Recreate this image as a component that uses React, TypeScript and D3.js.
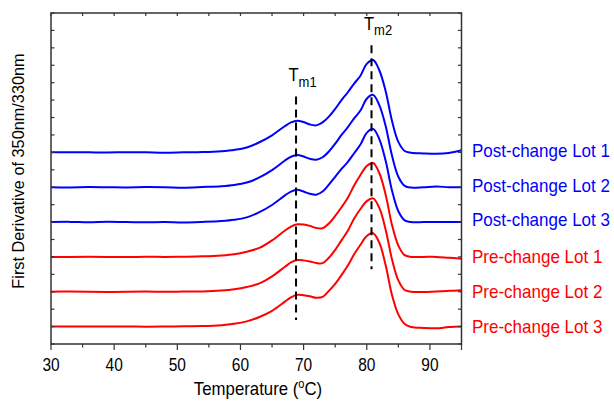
import React from "react";
import * as d3 from "d3";

// Temperatures (°C) at which the traces were read
const temps = [30, 33, 36, 39, 42, 45, 48, 51, 54, 57, 59, 61, 63, 65, 67, 68, 69, 70, 71, 72, 73, 74, 75, 76, 77, 78, 79, 80, 81, 82, 83, 84, 85, 86, 87, 89, 91, 93, 95];

// First-derivative signal above each trace's own baseline (axis units)
const post1 = [0.0, 0.01, 0.0, -0.01, 0.01, 0.0, -0.02, 0.0, 0.02, 0.07, 0.14, 0.28, 0.58, 0.98, 1.5, 1.72, 1.82, 1.74, 1.6, 1.55, 1.72, 2.05, 2.5, 3.0, 3.45, 3.95, 4.4, 5.08, 5.3, 4.7, 3.5, 1.8, 0.6, 0.08, -0.02, -0.06, -0.08, -0.03, 0.12];
const post2 = [0.0, -0.01, 0.01, 0.0, -0.01, 0.01, 0.0, -0.03, 0.01, 0.06, 0.13, 0.27, 0.56, 0.98, 1.52, 1.75, 1.85, 1.76, 1.63, 1.58, 1.72, 2.05, 2.5, 3.0, 3.45, 3.95, 4.4, 5.08, 5.3, 4.7, 3.5, 1.8, 0.6, 0.08, -0.02, 0.0, 0.04, 0.0, 0.0];
const post3 = [0.0, 0.01, -0.01, 0.02, 0.0, -0.01, 0.0, -0.02, 0.01, 0.06, 0.13, 0.27, 0.57, 0.98, 1.52, 1.75, 1.85, 1.75, 1.62, 1.57, 1.75, 2.15, 2.6, 3.05, 3.45, 3.95, 4.45, 5.12, 5.35, 4.75, 3.5, 1.8, 0.62, 0.1, 0.0, 0.0, 0.0, 0.0, 0.0];
const pre1 = [0.0, 0.0, 0.01, 0.0, -0.01, 0.01, 0.0, 0.01, 0.03, 0.08, 0.15, 0.3, 0.52, 0.95, 1.5, 1.74, 1.87, 1.86, 1.78, 1.66, 1.64, 1.92, 2.35, 2.85, 3.4, 4.1, 4.7, 5.22, 5.39, 4.8, 3.55, 1.82, 0.65, 0.1, 0.0, 0.0, 0.0, -0.05, -0.1];
const pre2 = [0.0, 0.01, 0.0, -0.01, 0.0, 0.01, 0.0, 0.01, 0.02, 0.07, 0.14, 0.27, 0.48, 0.88, 1.42, 1.68, 1.82, 1.8, 1.74, 1.65, 1.64, 1.95, 2.4, 2.95, 3.5, 4.2, 4.75, 5.2, 5.36, 4.8, 3.55, 1.85, 0.65, 0.1, 0.0, -0.02, 0.02, 0.05, 0.08];
const pre3 = [0.0, 0.0, 0.01, 0.0, 0.01, -0.01, 0.0, 0.02, 0.03, 0.08, 0.16, 0.3, 0.55, 0.9, 1.42, 1.68, 1.82, 1.8, 1.74, 1.65, 1.7, 2.05, 2.45, 2.95, 3.5, 4.15, 4.7, 5.2, 5.36, 4.8, 3.5, 1.8, 0.7, 0.15, -0.02, -0.08, -0.1, -0.03, 0.0];

const seriesNames = ["Post-change Lot 1", "Post-change Lot 2", "Post-change Lot 3", "Pre-change Lot 1", "Pre-change Lot 2", "Pre-change Lot 3"];
const seriesValues = [post1, post2, post3, pre1, pre2, pre3];
const seriesOffsets = [11, 9, 7, 5, 3, 1];
const seriesGroup = ["post", "post", "post", "pre", "pre", "pre"];

const xTickLabels = [30, 40, 50, 60, 70, 80, 90];
const xMinorTicks = [35, 45, 55, 65, 75, 85, 95];

// Melting-temperature markers: name, temperature, dashed line extent (y units)
const tmNames = ["m1", "m2"];
const tmTemps = [68.8, 80.75];
const tmTop = [14.2, 17.15];
const tmBottom = [1.38, 4.29];

const W = 614;
const H = 401;
const L = 51;
const R = 461.5;
const T = 13;
const B = 344;
const FONT = "'Liberation Sans', Arial, Helvetica, sans-serif";
const COLORS: Record<string, string> = { post: "#0000ff", pre: "#ff0000" };

export default function App() {
  const x = d3.scaleLinear().domain([30, 95]).range([L, R]);
  const y = d3.scaleLinear().domain([0, 19]).range([B, T]);
  const yTicks = d3.range(0, 20);
  const allX = [...xTickLabels, ...xMinorTicks];

  const lines = seriesValues.map((vals, i) => {
    const gen = d3
      .line<number>()
      .x((_, j) => x(temps[j]))
      .y((v) => y(v + seriesOffsets[i]))
      .curve(d3.curveCatmullRom.alpha(0.5));
    return gen(vals) || "";
  });

  return (
    <svg
      width={W}
      height={H}
      style={{ position: "absolute", left: 0, top: 0, background: "#fff" }}
      fontFamily={FONT}
    >
      <rect x={0} y={0} width={W} height={H} fill="#fff" />
      {/* curves */}
      <g fill="none" strokeWidth={2} strokeLinejoin="round">
        {lines.map((d, i) => (
          <path key={i} d={d} stroke={COLORS[seriesGroup[i]]} />
        ))}
      </g>
      {/* Tm markers */}
      {tmTemps.map((t, i) => (
        <g key={"tm" + i}>
          <line
            x1={x(t)}
            x2={x(t)}
            y1={y(tmTop[i])}
            y2={y(tmBottom[i])}
            stroke="#000"
            strokeWidth={2}
            strokeDasharray="8,5"
          />
          <text
            transform={`translate(${x(t) - 7.5}, ${y(tmTop[i]) - 15.5}) scale(1,1.08)`}
            fontSize={16.5}
            fill="#000"
          >
            T
            <tspan fontSize={13} dy={5}>
              {tmNames[i]}
            </tspan>
          </text>
        </g>
      ))}
      {/* frame */}
      <rect x={L} y={T} width={R - L} height={B - T} fill="none" stroke="#333" strokeWidth={1.5} />
      {/* left & right ticks (inward) */}
      {yTicks.map((v) => (
        <g key={"yt" + v} stroke="#333" strokeWidth={1.2}>
          <line x1={L} x2={L + 3.5} y1={y(v)} y2={y(v)} />
          <line x1={R} x2={R - 3.5} y1={y(v)} y2={y(v)} />
        </g>
      ))}
      {/* top ticks (inward) */}
      {allX.map((v) => (
        <line key={"tt" + v} x1={x(v)} x2={x(v)} y1={T} y2={T + 3} stroke="#333" strokeWidth={1.2} />
      ))}
      {/* bottom ticks (outward) */}
      {xTickLabels.map((v) => (
        <line key={"bt" + v} x1={x(v)} x2={x(v)} y1={B} y2={B + 6} stroke="#333" strokeWidth={1.2} />
      ))}
      {xMinorTicks.map((v) => (
        <line key={"bm" + v} x1={x(v)} x2={x(v)} y1={B} y2={B + (v === 95 ? 6 : 3.5)} stroke="#333" strokeWidth={1.2} />
      ))}
      {xTickLabels.map((v) => (
        <text
          key={"xl" + v}
          transform={`translate(${x(v)}, 370.5) scale(1,1.15)`}
          fontSize={15.5}
          textAnchor="middle"
          fill="#000"
        >
          {v}
        </text>
      ))}
      {/* axis titles */}
      <text transform="translate(258, 395) scale(1,1.12)" fontSize={16.8} textAnchor="middle" fill="#000">
        Temperature (
        <tspan fontSize={11} dy={-6}>
          o
        </tspan>
        <tspan dy={6}>C)</tspan>
      </text>
      <text
        transform={`translate(23.5, 171) rotate(-90)`}
        fontSize={16.3}
        textAnchor="middle"
        fill="#000"
      >
        First Derivative of 350nm/330nm
      </text>
      {/* series labels */}
      {seriesNames.map((name, i) => (
        <text
          key={"lab" + i}
          transform={`translate(472, ${y(seriesOffsets[i]) + (seriesGroup[i] === "post" ? 4.4 : 6.6)}) scale(1,1.08)`}
          fontSize={17}
          fill={COLORS[seriesGroup[i]]}
        >
          {name}
        </text>
      ))}
    </svg>
  );
}
